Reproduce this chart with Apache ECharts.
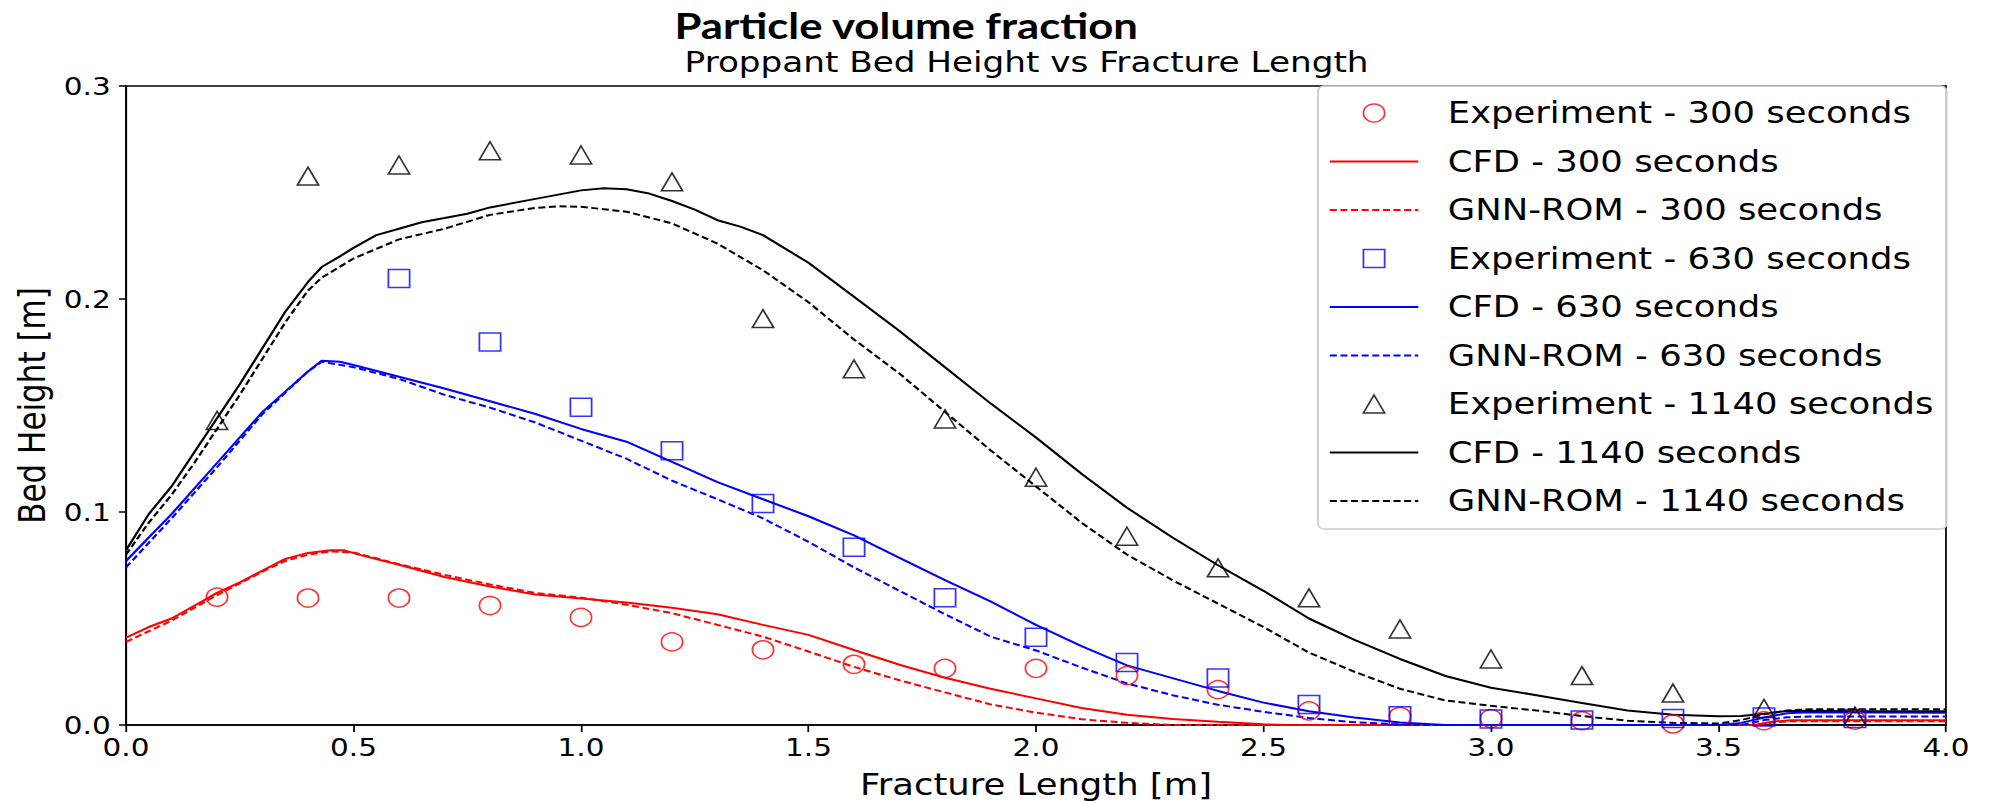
<!DOCTYPE html>
<html>
<head>
<meta charset="utf-8">
<script src="https://cdn.jsdelivr.net/npm/echarts@6.0.0/dist/echarts.min.js"></script>
<style>
  html, body { margin: 0; padding: 0; background: #ffffff; overflow: hidden; }
  /* the figure is laid out narrower and widened uniformly, giving its wide-set lettering and markers */
  #chart { width: 1695px; height: 803px; transform: scaleX(1.17994); transform-origin: 0 0; }
</style>
</head>
<body>
<div id="chart"></div>
<script>
// ---- data ----------------------------------------------------------------
const expX = [0.2, 0.4, 0.6, 0.8, 1.0, 1.2, 1.4, 1.6, 1.8, 2.0, 2.2, 2.4, 2.6, 2.8, 3.0, 3.2, 3.4, 3.6, 3.8];
const exp300 = [0.060, 0.0596, 0.0596, 0.0561, 0.0505, 0.039, 0.0353, 0.0285, 0.0266, 0.0266, 0.0232, 0.0166, 0.0066, 0.004, 0.003, 0.002, 0.0005, 0.002, 0.0023];
const exp630X = [0.6, 0.8, 1.0, 1.2, 1.4, 1.6, 1.8, 2.0, 2.2, 2.4, 2.6, 2.8, 3.0, 3.2, 3.4, 3.6, 3.8];
const exp630 = [0.2096, 0.1798, 0.1492, 0.1288, 0.104, 0.0835, 0.0597, 0.0412, 0.0293, 0.0221, 0.0096, 0.0044, 0.0028, 0.0024, 0.003, 0.0037, 0.0031];
const exp1140 = [0.143, 0.2577, 0.2629, 0.2696, 0.2676, 0.255, 0.1908, 0.1672, 0.1437, 0.1163, 0.0886, 0.0738, 0.0597, 0.0451, 0.031, 0.0232, 0.015, 0.0078, 0.0042];

const cfd300 = [[0,0.041],[0.05,0.046],[0.1,0.050],[0.15,0.056],[0.2,0.062],[0.25,0.067],[0.3,0.0725],[0.35,0.078],[0.4,0.0808],[0.45,0.082],[0.48,0.082],[0.52,0.0795],[0.6,0.0752],[0.7,0.0695],[0.8,0.065],[0.9,0.0613],[1.0,0.0594],[1.1,0.0575],[1.2,0.055],[1.3,0.052],[1.4,0.047],[1.5,0.0423],[1.6,0.0352],[1.7,0.0283],[1.8,0.0222],[1.9,0.017],[2.0,0.0125],[2.1,0.008],[2.2,0.0048],[2.3,0.0028],[2.4,0.0015],[2.5,0.0004],[2.55,0],[3.58,0],[3.62,0.0016],[3.66,0.0022],[4.0,0.0022]];
const gnn300 = [[0,0.039],[0.1,0.049],[0.2,0.061],[0.3,0.072],[0.35,0.077],[0.4,0.080],[0.45,0.0815],[0.5,0.081],[0.6,0.0755],[0.7,0.0705],[0.8,0.066],[0.9,0.062],[1.0,0.0598],[1.1,0.0565],[1.2,0.0525],[1.3,0.047],[1.4,0.0415],[1.5,0.0345],[1.6,0.0273],[1.7,0.021],[1.8,0.0153],[1.9,0.0097],[2.0,0.0058],[2.1,0.0027],[2.2,0.001],[2.3,0],[3.58,0],[3.62,0.0012],[3.66,0.0018],[4.0,0.0018]];
const cfd630 = [[0,0.077],[0.1,0.099],[0.2,0.123],[0.3,0.147],[0.4,0.166],[0.43,0.171],[0.47,0.1705],[0.5,0.169],[0.6,0.1635],[0.7,0.158],[0.8,0.152],[0.9,0.146],[1.0,0.139],[1.1,0.133],[1.2,0.1235],[1.3,0.114],[1.4,0.106],[1.5,0.098],[1.6,0.089],[1.7,0.0785],[1.8,0.068],[1.9,0.058],[2.0,0.047],[2.1,0.037],[2.2,0.028],[2.3,0.022],[2.4,0.016],[2.5,0.0105],[2.6,0.0065],[2.7,0.0035],[2.8,0.0012],[2.9,0],[3.5,0],[3.55,0.001],[3.6,0.0035],[3.65,0.0055],[3.7,0.006],[4.0,0.0058]];
const gnn630 = [[0,0.074],[0.1,0.097],[0.2,0.121],[0.3,0.146],[0.4,0.166],[0.43,0.1705],[0.5,0.168],[0.6,0.1625],[0.7,0.155],[0.8,0.149],[0.9,0.142],[1.0,0.1335],[1.1,0.125],[1.2,0.1147],[1.3,0.106],[1.4,0.097],[1.5,0.086],[1.6,0.074],[1.7,0.063],[1.8,0.052],[1.9,0.0415],[2.0,0.035],[2.1,0.027],[2.2,0.0195],[2.3,0.014],[2.4,0.0095],[2.5,0.0062],[2.6,0.0033],[2.7,0.0013],[2.8,0.0003],[2.85,0],[3.55,0],[3.6,0.0023],[3.65,0.0036],[3.7,0.004],[4.0,0.004]];
const cfd1140 = [[0,0.082],[0.05,0.099],[0.1,0.112],[0.15,0.128],[0.2,0.144],[0.25,0.160],[0.3,0.177],[0.35,0.194],[0.4,0.208],[0.43,0.215],[0.47,0.220],[0.5,0.224],[0.55,0.230],[0.6,0.233],[0.65,0.236],[0.7,0.238],[0.75,0.240],[0.8,0.243],[0.9,0.247],[1.0,0.251],[1.05,0.252],[1.1,0.2515],[1.15,0.2495],[1.2,0.246],[1.25,0.242],[1.3,0.237],[1.35,0.234],[1.4,0.230],[1.5,0.217],[1.6,0.201],[1.7,0.185],[1.8,0.168],[1.9,0.151],[2.0,0.135],[2.1,0.118],[2.2,0.102],[2.3,0.088],[2.4,0.075],[2.5,0.063],[2.6,0.050],[2.7,0.040],[2.8,0.031],[2.9,0.023],[3.0,0.0175],[3.1,0.014],[3.2,0.0103],[3.3,0.0068],[3.4,0.0048],[3.5,0.0041],[3.55,0.0042],[3.6,0.0053],[3.65,0.0066],[3.7,0.0067],[3.8,0.0065],[4.0,0.0065]];
const gnn1140 = [[0,0.080],[0.05,0.095],[0.1,0.108],[0.15,0.123],[0.2,0.139],[0.25,0.155],[0.3,0.172],[0.35,0.189],[0.4,0.204],[0.43,0.210],[0.5,0.219],[0.6,0.228],[0.7,0.233],[0.8,0.2395],[0.9,0.2428],[0.95,0.2435],[1.0,0.2433],[1.1,0.241],[1.2,0.2355],[1.3,0.226],[1.4,0.2135],[1.5,0.1985],[1.6,0.181],[1.7,0.165],[1.8,0.147],[1.9,0.129],[2.0,0.112],[2.1,0.095],[2.2,0.080],[2.3,0.068],[2.4,0.057],[2.5,0.046],[2.6,0.034],[2.7,0.025],[2.8,0.017],[2.9,0.0115],[3.0,0.009],[3.1,0.0068],[3.2,0.0042],[3.3,0.002],[3.4,0.001],[3.5,0.0007],[3.55,0.0023],[3.6,0.005],[3.65,0.0068],[3.7,0.0074],[4.0,0.0074]];

const seriesNames = [
  'Experiment - 300 seconds', 'CFD - 300 seconds', 'GNN-ROM - 300 seconds',
  'Experiment - 630 seconds', 'CFD - 630 seconds', 'GNN-ROM - 630 seconds',
  'Experiment - 1140 seconds', 'CFD - 1140 seconds', 'GNN-ROM - 1140 seconds'
];
const xTicks = { min: 0, max: 4, step: 0.5 };
const yTicks = { min: 0, max: 0.3, step: 0.1 };

// ---- styling ---------------------------------------------------------------
const FONT = 'DejaVu Sans';
const RED = '#ff0000', BLUE = '#0000ff', BLACK = '#000000';
const DASH = [6, 3];
const SQUARE_ICON = 'path://M0,0L10,0L10,10L0,10Z';
const TRIANGLE_ICON = 'path://M5,0L10,10L0,10Z';

const zip = (xs, ys) => xs.map((x, i) => [x, ys[i]]);

function markerSeries(name, xs, ys, symbol, color) {
  return {
    name, type: 'scatter', data: zip(xs, ys), symbol, symbolSize: 18,
    itemStyle: { color: 'rgba(0,0,0,0)', borderColor: color, borderWidth: 1.5 },
    emphasis: { disabled: true }, z: 2
  };
}
function curveSeries(name, data, color, dashed) {
  return {
    name, type: 'line', data, symbol: 'none', showSymbol: false,
    lineStyle: { color, width: 2, type: dashed ? DASH : 'solid' },
    itemStyle: { color },
    emphasis: { disabled: true }, z: 2
  };
}

const lineLegendItem = name => ({ name, itemStyle: { opacity: 0 } });

const option = {
  backgroundColor: '#ffffff',
  animation: false,
  title: [
    {
      text: 'Particle volume fraction',
      left: 768, top: 5, padding: 0, textAlign: 'center',
      textStyle: { fontFamily: 'Lato', fontWeight: 'bold', fontSize: 37, lineHeight: 40, color: '#000000' }
    },
    {
      text: 'Proppant Bed Height vs Fracture Length',
      left: 870, top: 47, padding: 0, textAlign: 'center',
      textStyle: { fontFamily: FONT, fontWeight: 'normal', fontSize: 29, color: '#000000' }
    }
  ],
  grid: {
    left: 106.8, right: 45.8, top: 86, bottom: 78,
    show: true, borderColor: '#000000', borderWidth: 1.5,
    outerBoundsMode: 'none'
  },
  xAxis: {
    type: 'value', min: xTicks.min, max: xTicks.max, interval: xTicks.step,
    axisLine: { show: true, onZero: false, lineStyle: { color: '#000000', width: 1.5 } },
    axisTick: { show: true, length: 7, lineStyle: { color: '#000000', width: 1.5 } },
    axisLabel: { fontFamily: FONT, fontSize: 25, color: '#000000', margin: 10,
                 formatter: v => Number(v).toFixed(1) },
    splitLine: { show: false },
    name: 'Fracture Length [m]', nameLocation: 'middle', nameGap: 45,
    nameTextStyle: { fontFamily: FONT, fontSize: 30, color: '#000000' }
  },
  yAxis: {
    type: 'value', min: yTicks.min, max: yTicks.max, interval: yTicks.step,
    axisLine: { show: true, onZero: false, lineStyle: { color: '#000000', width: 1.5 } },
    axisTick: { show: true, length: 6, lineStyle: { color: '#000000', width: 1.5 } },
    axisLabel: { fontFamily: FONT, fontSize: 25, color: '#000000', margin: 13,
                 formatter: v => Number(v).toFixed(1) },
    splitLine: { show: false },
    name: 'Bed Height [m]', nameLocation: 'middle', nameGap: 54,
    nameTextStyle: { fontFamily: FONT, fontSize: 31, color: '#000000' }
  },
  legend: {
    orient: 'vertical', left: 1117, top: 86,
    padding: [12, 11, 13, 9],
    itemWidth: 75, itemHeight: 18, itemGap: 18.5,
    backgroundColor: 'rgba(255,255,255,0.8)', borderColor: '#cccccc', borderWidth: 1.5, borderRadius: 5,
    itemStyle: { borderWidth: 1.5 },
    textStyle: { fontFamily: FONT, fontSize: 30, lineHeight: 30, color: '#000000', padding: [0, 0, 0, 20] },
    selectedMode: false,
    data: [
      { name: seriesNames[0], icon: 'circle' },
      lineLegendItem(seriesNames[1]),
      lineLegendItem(seriesNames[2]),
      { name: seriesNames[3], icon: SQUARE_ICON },
      lineLegendItem(seriesNames[4]),
      lineLegendItem(seriesNames[5]),
      { name: seriesNames[6], icon: TRIANGLE_ICON },
      lineLegendItem(seriesNames[7]),
      lineLegendItem(seriesNames[8])
    ]
  },
  series: [
    markerSeries(seriesNames[0], expX, exp300, 'circle', RED),
    curveSeries(seriesNames[1], cfd300, RED, false),
    curveSeries(seriesNames[2], gnn300, RED, true),
    markerSeries(seriesNames[3], exp630X, exp630, 'rect', BLUE),
    curveSeries(seriesNames[4], cfd630, BLUE, false),
    curveSeries(seriesNames[5], gnn630, BLUE, true),
    markerSeries(seriesNames[6], expX, exp1140, 'triangle', BLACK),
    curveSeries(seriesNames[7], cfd1140, BLACK, false),
    curveSeries(seriesNames[8], gnn1140, BLACK, true)
  ]
};

const chart = echarts.init(document.getElementById('chart'), null, { renderer: 'svg' });
chart.setOption(option);
</script>
</body>
</html>
